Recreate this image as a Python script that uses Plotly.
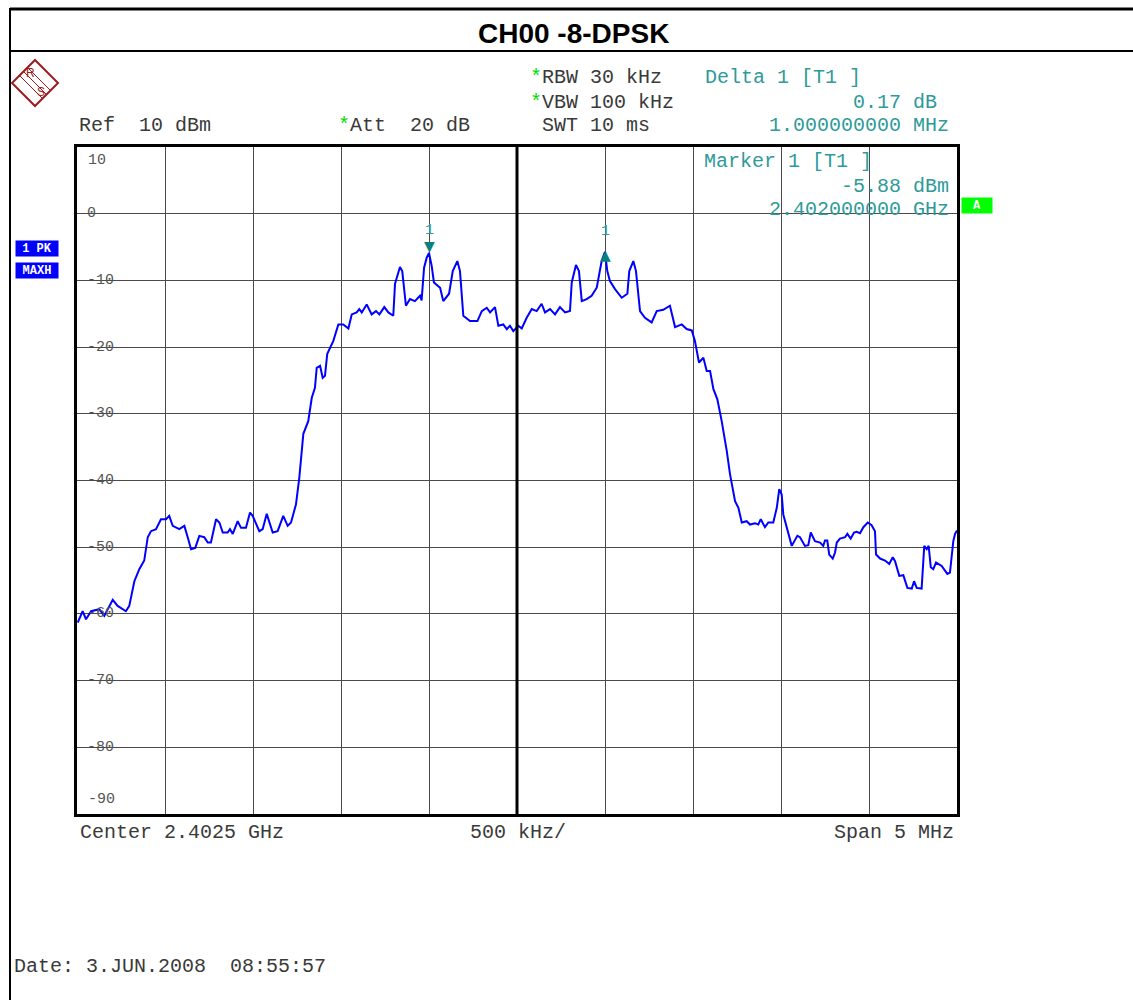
import plotly.graph_objects as go

# ---------------- data ----------------
start_mhz = 2400.0
offset_mhz = [0.004, 0.032, 0.051, 0.080, 0.127, 0.155, 0.203, 0.231, 0.278, 0.297,
              0.326, 0.354, 0.382, 0.402, 0.420, 0.449, 0.477, 0.506, 0.524, 0.544,
              0.581, 0.610, 0.629, 0.648, 0.672, 0.695, 0.723, 0.743, 0.761, 0.790,
              0.809, 0.828, 0.856, 0.869, 0.885, 0.913, 0.932, 0.960, 0.983, 0.998,
              1.036, 1.055, 1.078, 1.093, 1.112, 1.140, 1.172, 1.197, 1.216, 1.244,
              1.263, 1.286, 1.314, 1.334, 1.352, 1.362, 1.381, 1.396, 1.409, 1.422,
              1.456, 1.485, 1.513, 1.542, 1.561, 1.589, 1.604, 1.618, 1.646, 1.674,
              1.699, 1.718, 1.746, 1.769, 1.797, 1.807, 1.835, 1.848, 1.869, 1.892,
              1.920, 1.949, 1.958, 1.972, 1.987, 2.000, 2.015, 2.028, 2.063, 2.081,
              2.114, 2.135, 2.161, 2.176, 2.195, 2.233, 2.275, 2.300, 2.328, 2.347,
              2.375, 2.394, 2.422, 2.442, 2.460, 2.479, 2.507, 2.527, 2.555, 2.584,
              2.612, 2.640, 2.659, 2.688, 2.716, 2.744, 2.773, 2.801, 2.811, 2.835,
              2.852, 2.868, 2.896, 2.924, 2.953, 2.981, 3.000, 3.013, 3.028, 3.057,
              3.095, 3.127, 3.138, 3.161, 3.176, 3.199, 3.227, 3.265, 3.294, 3.331,
              3.369, 3.398, 3.436, 3.464, 3.493, 3.511, 3.534, 3.559, 3.578, 3.597,
              3.616, 3.638, 3.663, 3.692, 3.710, 3.739, 3.758, 3.777, 3.805, 3.824,
              3.852, 3.871, 3.885, 3.909, 3.928, 3.956, 3.976, 3.990, 4.004, 4.013,
              4.042, 4.061, 4.093, 4.108, 4.136, 4.155, 4.169, 4.193, 4.222, 4.240,
              4.250, 4.263, 4.274, 4.294, 4.307, 4.317, 4.335, 4.364, 4.377, 4.396,
              4.415, 4.430, 4.449, 4.468, 4.493, 4.515, 4.534, 4.540, 4.563, 4.591,
              4.615, 4.635, 4.648, 4.672, 4.695, 4.718, 4.743, 4.756, 4.771, 4.799,
              4.814, 4.828, 4.839, 4.851, 4.865, 4.881, 4.913, 4.945, 4.960, 4.979,
              4.989, 5.000]
level_dbm = [-61.3, -59.6, -60.8, -59.6, -59.3, -60.3, -57.9, -58.8, -59.6, -58.8,
             -55.1, -53.3, -52.0, -48.5, -47.6, -47.3, -45.8, -45.8, -45.3, -46.8,
             -47.3, -46.8, -48.5, -50.3, -50.1, -48.3, -48.5, -49.3, -49.3, -45.8,
             -46.3, -47.8, -47.8, -47.3, -48.0, -46.1, -47.1, -47.1, -44.8, -45.3,
             -47.6, -47.3, -45.0, -46.1, -47.8, -47.6, -45.3, -46.8, -46.3, -43.6,
             -39.6, -33.0, -31.1, -27.6, -26.1, -23.1, -22.8, -24.6, -24.3, -21.0,
             -19.1, -16.6, -16.6, -17.2, -15.1, -14.8, -14.3, -14.8, -13.6, -15.1,
             -14.6, -15.1, -14.0, -14.8, -15.3, -10.5, -8.0, -8.6, -13.8, -12.8,
             -13.1, -12.3, -13.0, -8.1, -6.6, -5.88, -7.8, -10.3, -11.1, -13.1,
             -12.0, -8.6, -7.1, -8.6, -15.3, -16.1, -16.1, -14.6, -14.1, -14.8,
             -14.0, -16.8, -16.6, -17.3, -16.8, -17.6, -16.8, -17.2, -15.6, -14.3,
             -14.6, -13.5, -14.8, -14.3, -15.1, -14.0, -14.8, -14.6, -10.3, -7.7,
             -8.6, -13.1, -12.8, -12.3, -11.1, -7.1, -5.71, -8.6, -10.1, -11.3,
             -12.6, -12.0, -8.6, -7.1, -8.6, -14.6, -15.6, -16.3, -14.6, -14.4,
             -13.8, -17.0, -16.6, -17.3, -17.5, -19.1, -22.3, -21.6, -23.6, -23.6,
             -26.3, -27.8, -31.1, -35.6, -39.0, -43.1, -44.1, -46.3, -46.1, -46.6,
             -46.4, -46.6, -45.8, -47.0, -46.3, -46.3, -44.1, -41.3, -42.1, -45.1,
             -48.1, -49.8, -48.3, -48.5, -49.8, -49.7, -47.8, -49.1, -49.3, -49.8,
             -49.0, -49.0, -51.1, -51.7, -50.8, -49.3, -48.7, -48.5, -48.0, -48.7,
             -47.8, -47.7, -47.9, -47.0, -46.3, -46.7, -47.6, -51.1, -51.7, -52.0,
             -52.5, -51.5, -52.1, -54.3, -54.2, -56.1, -56.2, -55.1, -56.1, -56.2,
             -49.8, -50.3, -49.8, -53.0, -53.3, -52.3, -52.8, -54.0, -53.8, -49.1,
             -48.0, -47.5]

freq_mhz = [start_mhz + o for o in offset_mhz]

y_ticks = [10, 0, -10, -20, -30, -40, -50, -60, -70, -80, -90]
y_tick_labels = ["10", "0", "-10", "-20", "-30", "-40", "-50", "-60", "-70", "-80", "-90"]

marker_freq = [2402.0, 2403.0]
marker_level = [-5.88, -5.71]

# ---------------- layout helpers ----------------
W, H = 1133, 1000
L, R, T, B = 77, 957, 147, 814


def xp(px):
    return (px - L) / (R - L)


def yp(py):
    return (B - py) / (B - T)


MONO = "Liberation Mono, Courier New, monospace"
GREY = "#3a3a3a"
TEAL = "#2e9a9a"
STAR = '<span style="color:#00dd00">*</span>'
NB = "\u00a0"

annotations = []
shapes = []


def txt(px, py, text, color=GREY, size=20, xanchor="left", family=MONO, **kw):
    annotations.append(dict(
        x=xp(px), y=yp(py), xref="paper", yref="paper", text=text,
        showarrow=False, xanchor=xanchor, yanchor="middle",
        font=dict(family=family, size=size, color=color), **kw))


# title
txt(573, 33, "<b>CH00 -8-DPSK</b>", color="#000", size=28, xanchor="center",
    family="Liberation Sans Narrow, Liberation Sans, Arial")

# header
txt(528, 77, STAR + "RBW 30 kHz")
txt(528, 102, STAR + "VBW 100 kHz")
txt(540, 126, "SWT 10 ms")
txt(77, 126, "Ref" + NB + NB + "10 dBm")
txt(336, 126, STAR + "Att" + NB + NB + "20 dB")
txt(703, 77, "Delta 1 [T1 ]", color=TEAL)
txt(939, 102, "0.17 dB", color=TEAL, xanchor="right")
txt(951, 126, "1.000000000 MHz", color=TEAL, xanchor="right")
txt(702, 161, "Marker 1 [T1 ]", color=TEAL)
txt(951, 186, "-5.88 dBm", color=TEAL, xanchor="right")
txt(951, 210, "2.402000000 GHz", color=TEAL, xanchor="right")

# footer
txt(78, 832, "Center 2.4025 GHz")
txt(468, 832, "500 kHz/")
txt(956, 832, "Span 5 MHz", xanchor="right")
txt(12, 966, "Date:" + NB + "3.JUN.2008" + NB + NB + "08:55:57")

# status boxes
for label, bx, by, bw, bg in [("1 PK", 37, 248, 42, "#0000ff"),
                              ("MAXH", 37, 270, 42, "#0000ff"),
                              ("A", 977, 205, 30, "#00ff00")]:
    annotations.append(dict(x=xp(bx), y=yp(by), xref="paper", yref="paper",
                            text="<b>" + label + "</b>", showarrow=False, bgcolor=bg,
                            xanchor="center", yanchor="middle",
                            width=bw, height=15, borderpad=0,
                            font=dict(family=MONO, size=12, color="white")))

# y tick labels inside plot (white patch behind them, under the trace)
for v, lab in zip(y_ticks, y_tick_labels):
    if v == 10:
        annotations.append(dict(x=xp(86), y=v, xref="paper", yref="y", text=lab,
                                showarrow=False, xanchor="left", yanchor="middle", yshift=-13,
                                font=dict(family=MONO, size=15, color="#555")))
    elif v == -90:
        annotations.append(dict(x=xp(86), y=v, xref="paper", yref="y", text=lab,
                                showarrow=False, xanchor="left", yanchor="middle", yshift=15,
                                font=dict(family=MONO, size=15, color="#555")))
    else:
        annotations.append(dict(x=xp(85), y=v, xref="paper", yref="y", text=lab,
                                showarrow=False, xanchor="left", yanchor="middle",
                                font=dict(family=MONO, size=15, color="#555")))
        shapes.append(dict(type="rect", xref="paper", yref="y", layer="between",
                           x0=xp(85), x1=xp(87 + 9 * len(lab)), y0=v - 0.9, y1=v + 0.9,
                           fillcolor="white", line=dict(width=0)))

# markers
annotations.append(dict(x=marker_freq[0], y=marker_level[0], xref="x", yref="y", text="\u25bc",
                        showarrow=False, yanchor="bottom", yshift=-3,
                        font=dict(family="DejaVu Sans", size=14, color="#0a7f7f")))
annotations.append(dict(x=marker_freq[0], y=marker_level[0], xref="x", yref="y", text="1",
                        showarrow=False, yanchor="bottom", yshift=12,
                        font=dict(family=MONO, size=15, color=TEAL)))
annotations.append(dict(x=marker_freq[1], y=marker_level[1], xref="x", yref="y", text="\u25b2",
                        showarrow=False, yanchor="middle", yshift=-3,
                        font=dict(family="DejaVu Sans", size=14, color="#0a7f7f")))
annotations.append(dict(x=marker_freq[1], y=marker_level[1], xref="x", yref="y", text="1",
                        showarrow=False, yanchor="bottom", yshift=10,
                        font=dict(family=MONO, size=15, color=TEAL)))

# outer frame lines, center line
shapes += [
    dict(type="line", xref="paper", yref="paper", x0=xp(10), x1=xp(10), y0=yp(8), y1=yp(1000),
         line=dict(color="black", width=2)),
    dict(type="line", xref="paper", yref="paper", x0=xp(10), x1=xp(1133), y0=yp(9), y1=yp(9),
         line=dict(color="black", width=3)),
    dict(type="line", xref="paper", yref="paper", x0=xp(10), x1=xp(1133), y0=yp(51), y1=yp(51),
         line=dict(color="black", width=2)),
    dict(type="line", xref="x", yref="paper", x0=2402.5, x1=2402.5, y0=0, y1=1,
         line=dict(color="black", width=3)),
]

# R&S logo (diamond)
cx, cy, hw = 35, 83, 23
diamond = "M {} {} L {} {} L {} {} L {} {} Z".format(
    xp(cx), yp(cy - hw), xp(cx + hw), yp(cy), xp(cx), yp(cy + hw), xp(cx - hw), yp(cy))
shapes.append(dict(type="path", xref="paper", yref="paper", path=diamond,
                   line=dict(color="#9b1c1c", width=2)))
for d in (-4, 0, 4):
    shapes.append(dict(type="line", xref="paper", yref="paper",
                       x0=xp(cx - 12 + d), y0=yp(cy - 12 - d), x1=xp(cx + 12 + d), y1=yp(cy + 12 - d),
                       line=dict(color="#9b1c1c", width=1)))
annotations.append(dict(x=xp(30), y=yp(73), xref="paper", yref="paper", text="R", showarrow=False,
                        xanchor="center", yanchor="middle",
                        font=dict(family="Liberation Sans", size=12, color="#9b1c1c")))
annotations.append(dict(x=xp(41), y=yp(92), xref="paper", yref="paper", text="S", showarrow=False,
                        xanchor="center", yanchor="middle",
                        font=dict(family="Liberation Sans", size=12, color="#9b1c1c")))

fig = go.Figure()
fig.add_trace(go.Scatter(x=freq_mhz, y=level_dbm, mode="lines",
                         line=dict(color="#0000ff", width=2), hoverinfo="skip",
                         showlegend=False))

fig.update_layout(
    width=W, height=H,
    margin=dict(l=L, r=W - R, t=T, b=H - B, pad=0),
    paper_bgcolor="white", plot_bgcolor="white",
    showlegend=False,
    annotations=annotations, shapes=shapes,
    xaxis=dict(range=[2400, 2405], tick0=2400, dtick=0.5, showgrid=True,
               gridcolor="#4a4a4a", gridwidth=1, showticklabels=False, ticks="",
               zeroline=False, showline=True, mirror=True, linecolor="black", linewidth=3),
    yaxis=dict(range=[-90, 10], tick0=-90, dtick=10, showgrid=True,
               gridcolor="#4a4a4a", gridwidth=1, showticklabels=False, ticks="",
               zeroline=False, showline=True, mirror=True, linecolor="black", linewidth=3),
)

fig.write_html("out.html", config={"displayModeBar": False},
               post_script="document.body.style.margin='0';document.body.style.overflow='hidden';")
